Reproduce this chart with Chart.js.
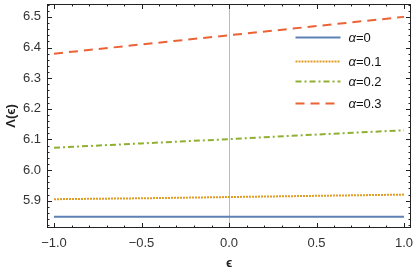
<!DOCTYPE html>
<html>
<head>
<meta charset="utf-8">
<script src="https://cdn.jsdelivr.net/npm/chart.js@4.4.0/dist/chart.umd.min.js"></script>
<style>
  html, body { margin: 0; padding: 0; background: #fff; }
  #wrap { width: 415px; height: 275px; }
</style>
</head>
<body>
<div id="wrap"><canvas id="chart1"></canvas></div>
<script>
const eps = [-1, -0.5, 0, 0.5, 1];
const alpha0 = [5.848, 5.848, 5.848, 5.848, 5.848];
const alpha01 = [5.905, 5.908, 5.912, 5.916, 5.92];
const alpha02 = [6.073, 6.087, 6.101, 6.116, 6.13];
const alpha03 = [6.38, 6.41, 6.44, 6.47, 6.50];
const xTicks = [-1, -0.5, 0, 0.5, 1];
const yTicks = [5.9, 6.0, 6.1, 6.2, 6.3, 6.4, 6.5];
const labels = ["α=0", "α=0.1", "α=0.2", "α=0.3"];

const pts = (ys) => eps.map((x, i) => ({ x: x, y: ys[i] }));
const fmt = (v) => (v < 0 ? "\u2212" : "") + Math.abs(v).toFixed(1);

const frameTicks = {
  id: "frameTicks",
  afterDraw(chart) {
    const c = chart.ctx, a = chart.chartArea;
    const xs = chart.scales.x, ys = chart.scales.y;
    c.save();
    c.strokeStyle = "#222";
    c.lineWidth = 1;
    c.strokeRect(a.left + 0.5, a.top + 0.5, a.right - a.left - 1, a.bottom - a.top - 1);
    // x ticks
    for (let k = -10; k <= 10; k++) {
      const v = k / 10;
      const px = Math.round(xs.getPixelForValue(v)) + 0.5;
      const len = k % 5 === 0 ? 5 : 2.5;
      c.beginPath();
      c.moveTo(px, a.bottom); c.lineTo(px, a.bottom - len);
      c.moveTo(px, a.top); c.lineTo(px, a.top + len);
      c.stroke();
    }
    // y ticks
    for (let k = 290; k <= 327; k++) {
      const v = k / 50;
      if (v < ys.min || v > ys.max) continue;
      const py = Math.round(ys.getPixelForValue(v)) + 0.5;
      const len = k % 5 === 0 ? 5 : 2.5;
      c.beginPath();
      c.moveTo(a.left, py); c.lineTo(a.left + len, py);
      c.moveTo(a.right, py); c.lineTo(a.right - len, py);
      c.stroke();
    }
    // legend inside the frame
    const ds = chart.data.datasets;
    const lx = xs.getPixelForValue(0.38);
    const rows = [6.434, 6.355, 6.29, 6.22];
    ds.forEach((d, i) => {
      const y = Math.round(ys.getPixelForValue(rows[i])) + 0.5;
      c.strokeStyle = d.borderColor;
      c.lineWidth = d.borderWidth;
      c.setLineDash(d.borderDash || []);
      c.beginPath(); c.moveTo(lx, y); c.lineTo(lx + 45, y); c.stroke();
      c.setLineDash([]);
      c.fillStyle = "#111";
      c.textBaseline = "middle";
      c.font = "italic 13px 'Liberation Sans', Arial, sans-serif";
      c.fillText("α", lx + 53, y + 1);
      const w = c.measureText("α").width;
      c.font = "13px 'Liberation Sans', Arial, sans-serif";
      c.fillText(d.label.slice(1), lx + 53 + w, y + 1);
    });
    c.restore();
  }
};

new Chart(document.getElementById("chart1"), {
  type: "line",
  data: {
    datasets: [
      { label: labels[0], data: pts(alpha0), borderColor: "#5e81b5", borderWidth: 2 },
      { label: labels[1], data: pts(alpha01), borderColor: "#e19c24", borderWidth: 2, borderDash: [2, 1] },
      { label: labels[2], data: pts(alpha02), borderColor: "#8fb032", borderWidth: 2, borderDash: [6, 3, 2, 3] },
      { label: labels[3], data: pts(alpha03), borderColor: "#eb6235", borderWidth: 2, borderDash: [9, 6] },
    ],
  },
  options: {
    responsive: true,
    maintainAspectRatio: false,
    animation: false,
    layout: { padding: { top: 4, right: 4, left: 0, bottom: 0 } },
    elements: { point: { radius: 0 }, line: { tension: 0 } },
    plugins: { legend: { display: false }, tooltip: { enabled: false } },
    scales: {
      x: {
        type: "linear",
        min: -1.04,
        max: 1.04,
        afterBuildTicks: (s) => { s.ticks = xTicks.map((v) => ({ value: v })); },
        afterFit: (s) => { s.height = 47; s.paddingLeft = 0; s.paddingRight = 0; },
        border: { display: false },
        grid: {
          drawTicks: false,
          color: (ctx) => (ctx.tick && ctx.tick.value === 0 ? "#bbbbbb" : "rgba(0,0,0,0)"),
          lineWidth: 1,
        },
        ticks: {
          padding: 8,
          color: "#333",
          font: { family: "'Liberation Sans', Arial, sans-serif", size: 13 },
          callback: (v) => fmt(v),
        },
        title: {
          display: true,
          text: "ϵ",
          color: "#222",
          padding: { top: 4 },
          font: { family: "'Liberation Sans', Arial, sans-serif", size: 13, weight: "bold" },
        },
      },
      y: {
        type: "linear",
        min: 5.811,
        max: 6.542,
        afterBuildTicks: (s) => { s.ticks = yTicks.map((v) => ({ value: v })); },
        afterFit: (s) => { s.width = 47; s.paddingTop = 0; s.paddingBottom = 0; },
        border: { display: false },
        grid: { display: false, drawTicks: false },
        ticks: {
          padding: 6,
          color: "#333",
          font: { family: "'Liberation Sans', Arial, sans-serif", size: 13 },
          callback: (v) => fmt(v),
        },
        title: {
          display: true,
          text: "Λ(ϵ)",
          color: "#222",
          padding: { bottom: 2 },
          font: { family: "'Liberation Sans', Arial, sans-serif", size: 13, weight: "bold" },
        },
      },
    },
  },
  plugins: [frameTicks],
});
</script>
</body>
</html>
